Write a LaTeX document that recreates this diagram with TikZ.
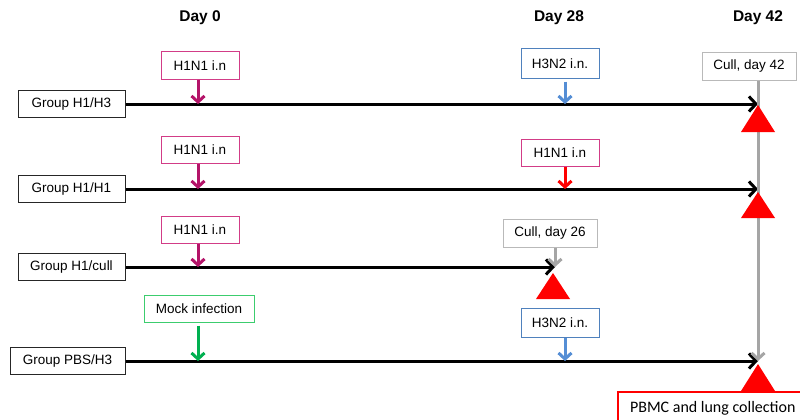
\documentclass[tikz,border=0pt]{standalone}
\usepackage{fontspec}
\setmainfont{Liberation Sans}
\newfontfamily\calibfont{Carlito}
\usetikzlibrary{arrows.meta}
\definecolor{magbox}{RGB}{210,60,135}
\definecolor{magarr}{RGB}{180,20,105}
\definecolor{bluebox}{RGB}{79,129,189}
\definecolor{bluearr}{RGB}{85,142,213}
\definecolor{greenbox}{RGB}{60,205,110}
\definecolor{greenarr}{RGB}{0,176,80}
\definecolor{greyline}{RGB}{165,165,165}
\definecolor{greybox}{RGB}{185,185,185}
\begin{document}
\begin{tikzpicture}[x=1pt,y=-1pt,
  grp/.style={draw=black!85, line width=1pt, minimum width=107pt, minimum height=27pt, inner sep=0pt, font=\fontsize{13.5}{16}\selectfont},
  lbl/.style={draw, line width=1pt, minimum height=27pt, inner sep=0pt, font=\fontsize{13.5}{16}\selectfont},
  daylbl/.style={font=\bfseries\fontsize{15.5}{18}\selectfont},
  tline/.style={line width=3pt, -{Straight Barb[length=7pt,width=15pt]}},
  inarr/.style={line width=3pt, -{Straight Barb[length=6pt,width=13pt]}}
]
\useasboundingbox (0,0) rectangle (800,420);

% day headers
\node[daylbl] (d0) at (200,18) {Day 0};
\node[daylbl] (d28) at (559,18) {Day 28};
\node[daylbl] (d42) at (758,18) {Day 42};

% group boxes
\node[grp] (g1) at (71.5,104) {Group H1/H3};
\node[grp] (g2) at (71.5,189) {Group H1/H1};
\node[grp] (g3) at (71.5,267) {Group H1/cull};
\node[grp, minimum width=115pt] (g4) at (67.5,361) {Group PBS/H3};

% line ends
\coordinate (e1) at (758,104);
\coordinate (e2) at (758,189);
\coordinate (e3) at (555,267);
\coordinate (e4) at (758,361);

% day-0 points
\coordinate (p1) at (198,104);
\coordinate (p2) at (198,189);
\coordinate (p3) at (198,267);
\coordinate (p4) at (198,361);
% day-28 points
\coordinate (q1) at (565,104);
\coordinate (q2) at (565,189);
\coordinate (q4) at (565,361);

% timelines
\draw[tline] (g1.east) -- (e1);
\draw[tline] (g2.east) -- (e2);
\draw[tline] (g3.east) -- (e3);
\draw[tline] (g4.east) -- (e4);

% day 0 labels
\node[lbl, draw=magbox, minimum width=78pt] (a1) at (200,65.5) {H1N1 i.n};
\node[lbl, draw=magbox, minimum width=78pt] (a2) at (200,149.5) {H1N1 i.n};
\node[lbl, draw=magbox, minimum width=78pt] (a3) at (200,229.5) {H1N1 i.n};
\node[lbl, draw=greenbox, minimum width=110pt] (a4) at (199,308.5) {Mock infection};

\draw[inarr, magarr] (a1.south -| p1) -- (p1);
\draw[inarr, magarr] (a2.south -| p2) -- (p2);
\draw[inarr, magarr] (a3.south -| p3) -- (p3);
\draw[inarr, greenarr] ([yshift=-3pt]a4.south -| p4) -- (p4);

% day 28 labels
\node[lbl, draw=bluebox, minimum width=78pt, minimum height=29pt] (b1) at (560,63.5) {H3N2 i.n.};
\node[lbl, draw=magbox, minimum width=78pt] (b2) at (560,152.5) {H1N1 i.n};
\node[lbl, draw=greybox, minimum width=94pt, minimum height=28pt] (b3) at (550,233) {Cull, day 26};
\node[lbl, draw=bluebox, minimum width=78pt, minimum height=29pt] (b4) at (560,322.5) {H3N2 i.n.};

\draw[inarr, bluearr] ([yshift=-3pt]b1.south -| q1) -- (q1);
\draw[inarr, red] (b2.south -| q2) -- (q2);
\draw[inarr, greyline] (b3.south -| e3) -- (e3);
\draw[inarr, bluearr] (b4.south -| q4) -- (q4);

% day 42 cull
\node[lbl, draw=greybox, minimum width=94pt] (c42) at (749,66.5) {Cull, day 42};
\draw[inarr, greyline] (c42.south -| e4) -- (e4);

% triangles (cull markers)
\fill[red] (741,132) -- (758,105) -- (775,132) -- cycle;
\fill[red] (741,218) -- (758,192) -- (775,218) -- cycle;
\fill[red] (536,299) -- (553,273) -- (570,299) -- cycle;
\fill[red] (741,391) -- (758,364) -- (775,391) -- cycle;

% collection box
\node[draw=red, line width=1.5pt, fill=white, anchor=north west, minimum width=190pt, minimum height=34pt, inner sep=0pt, font=\calibfont\fontsize{16}{19}\selectfont] (pbmc) at (617,391) {PBMC and lung collection};
\end{tikzpicture}
\end{document}
